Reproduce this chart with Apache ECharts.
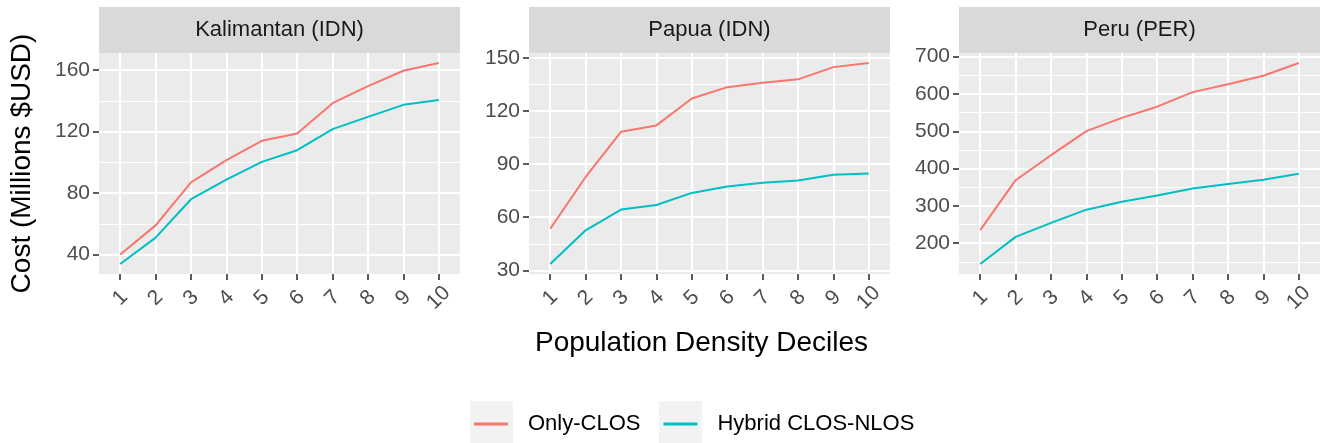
<!DOCTYPE html>
<html><head><meta charset="utf-8">
<script src="https://cdn.jsdelivr.net/npm/echarts@6/dist/echarts.min.js"></script>
<style>html,body{margin:0;padding:0;background:#fff}#c{width:1325px;height:443px}</style>
</head><body><div id="c"></div>
<script>
// ---- data ----
const deciles = [1, 2, 3, 4, 5, 6, 7, 8, 9, 10];
const regions = ['Kalimantan (IDN)', 'Papua (IDN)', 'Peru (PER)'];
const seriesNames = ['Only-CLOS', 'Hybrid CLOS-NLOS'];
const kalimantanOnly   = [40, 59, 87, 101.4, 114, 118.8, 138.5, 149.6, 159.6, 164.6];
const kalimantanHybrid = [33.9, 51, 76, 88.8, 100.3, 107.9, 121.6, 129.6, 137.4, 140.5];
const papuaOnly        = [53.5, 82.7, 108.2, 111.8, 127, 133.4, 135.9, 137.8, 144.7, 147];
const papuaHybrid      = [33.6, 52.6, 64.3, 66.9, 73.7, 77.3, 79.4, 80.7, 83.9, 84.6];
const peruOnly         = [235, 369, 436, 500.5, 536, 566, 605, 626, 649, 683];
const peruHybrid       = [144.5, 217, 254.6, 290, 311, 328, 346.7, 359, 370, 386];
const yTicksKalimantan = [40, 80, 120, 160];
const yTicksPapua      = [30, 60, 90, 120, 150];
const yTicksPeru       = [200, 300, 400, 500, 600, 700];
const yTitle = 'Cost (Millions $USD)';
const xTitle = 'Population Density Deciles';

// ---- styling ----
const colors = ['#F8766D', '#00BFC4'];
const FONT = '"Liberation Sans", Arial, sans-serif';
const panelData = [[kalimantanOnly, kalimantanHybrid], [papuaOnly, papuaHybrid], [peruOnly, peruHybrid]];
const panelTicks = [yTicksKalimantan, yTicksPapua, yTicksPeru];
const gridLeft = [99, 529, 959], gridTop = 53, gridW = 361, gridH = 221;

function range(arrs) {
  const all = [].concat(...arrs);
  const lo = Math.min(...all), hi = Math.max(...all), pad = (hi - lo) * 0.05;
  return [lo - pad, hi + pad];
}

const grids = [], xAxes = [], yAxes = [], series = [], graphics = [];
for (let i = 0; i < 3; i++) {
  grids.push({left: gridLeft[i], top: gridTop, width: gridW, height: gridH, show: true,
    backgroundColor: '#EBEBEB', borderWidth: 0, containLabel: false, outerBoundsMode: 'none'});
  const [mn, mx] = range(panelData[i]);
  const t = panelTicks[i];
  const step = t[1] - t[0];
  const minor = [];
  for (let v = t[0] - step / 2; v <= mx; v += step) if (v >= mn) minor.push(v);
  xAxes.push({type: 'value', gridIndex: i, min: 0.4, max: 10.6,
    axisLine: {show: false},
    axisTick: {show: true, length: 6, lineStyle: {color: '#333', width: 1.6}, customValues: deciles},
    axisLabel: {customValues: deciles, rotate: 45, align: 'center', verticalAlign: 'middle', margin: 24,
      fontSize: 21, color: '#4D4D4D', fontFamily: FONT},
    splitLine: {show: true, lineStyle: {color: '#FFFFFF', width: 2}},
    name: i === 1 ? xTitle : '', nameLocation: 'middle', nameGap: 55,
    nameTextStyle: {fontSize: 28, color: '#000', fontFamily: FONT, padding: [0, 16, 0, 0]}
  });
  yAxes.push({type: 'value', gridIndex: i, min: mn, max: mx, position: 'left',
    axisLine: {show: false},
    axisTick: {show: true, length: 6, lineStyle: {color: '#333', width: 1.6}, customValues: t},
    axisLabel: {customValues: t, margin: 9, fontSize: 21, color: '#4D4D4D', fontFamily: FONT},
    splitLine: {show: true, lineStyle: {color: '#FFFFFF', width: 2}},
    name: i === 0 ? yTitle : '', nameLocation: 'middle', nameRotate: 90, nameGap: 63,
    nameTextStyle: {fontSize: 28, color: '#000', fontFamily: FONT}
  });
  yAxes.push({type: 'value', gridIndex: i, min: mn, max: mx, position: 'right',
    axisLine: {show: false}, axisTick: {show: false, customValues: minor},
    axisLabel: {show: false, customValues: minor},
    splitLine: {show: true, lineStyle: {color: '#FFFFFF', width: 1}}
  });
  for (let s = 0; s < 2; s++) {
    series.push({type: 'line', name: seriesNames[s], xAxisIndex: i, yAxisIndex: 2 * i,
      data: deciles.map((d, k) => [d, panelData[i][s][k]]),
      symbol: 'none', showSymbol: false, color: colors[s],
      lineStyle: {color: colors[s], width: 2}, z: 3});
  }
  graphics.push({type: 'rect', shape: {x: gridLeft[i], y: 7, width: gridW, height: 46},
    style: {fill: '#D9D9D9'}, silent: true});
  graphics.push({type: 'text', x: gridLeft[i] + gridW / 2, y: 30,
    style: {text: regions[i], fill: '#1A1A1A', font: '22px ' + FONT, align: 'center', verticalAlign: 'middle'}});
}
graphics.push({type: 'rect', shape: {x: 470, y: 401, width: 43, height: 43}, style: {fill: '#F2F2F2'}, z: 0});
graphics.push({type: 'rect', shape: {x: 659, y: 401, width: 43, height: 43}, style: {fill: '#F2F2F2'}, z: 0});

const chart = echarts.init(document.getElementById('c'), null, {renderer: 'canvas'});
chart.setOption({
  animation: false,
  backgroundColor: '#FFFFFF',
  textStyle: {fontFamily: FONT},
  grid: grids, xAxis: xAxes, yAxis: yAxes, series: series,
  legend: {data: seriesNames, icon: 'rect', itemWidth: 34, itemHeight: 3, left: 474, top: 413,
    itemGap: 23, padding: 0, selectedMode: false,
    textStyle: {fontSize: 22, color: '#000', fontFamily: FONT, padding: [0, 0, 0, 15]}},
  graphic: graphics
});
</script></body></html>
